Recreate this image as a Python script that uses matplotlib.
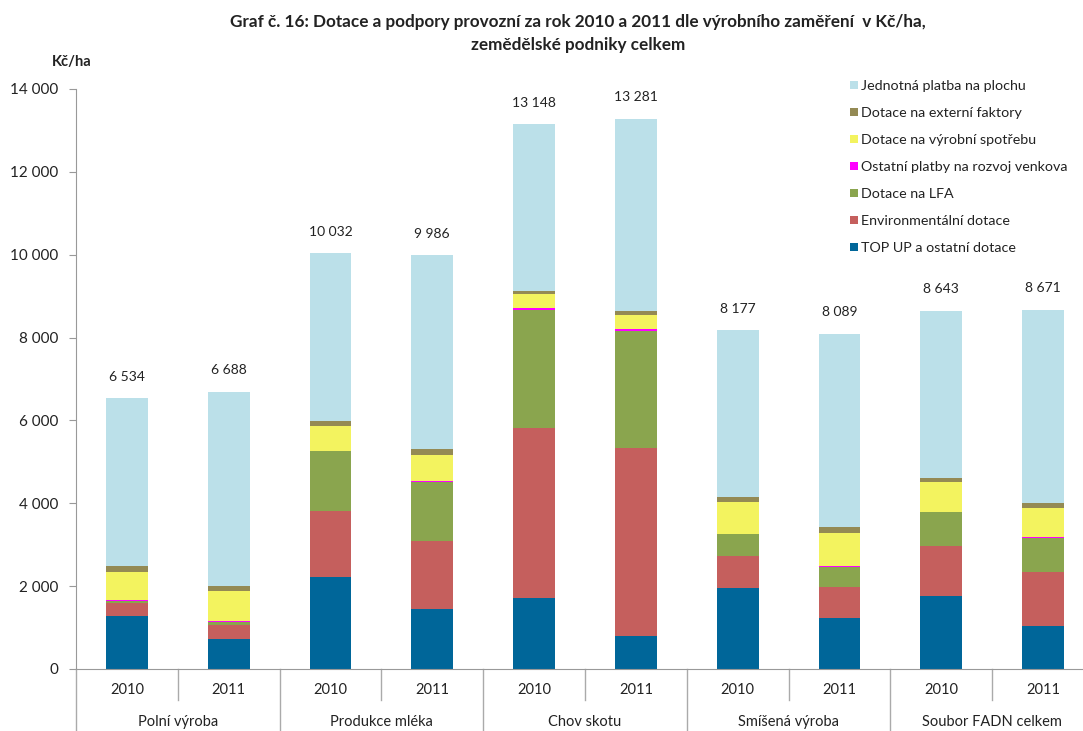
import matplotlib
matplotlib.use("Agg")
import matplotlib.pyplot as plt
import matplotlib.transforms as mtransforms
from matplotlib.patches import Patch
import numpy as np

plt.rcParams['font.family'] = ['Lato', 'DejaVu Sans']

groups = ["Polní výroba", "Produkce mléka", "Chov skotu", "Smíšená výroba", "Soubor FADN celkem"]
years = ["2010", "2011"]

top_up   = [1287, 717, 2229, 1448, 1709, 806, 1963, 1223, 1770, 1046]
env      = [299, 345, 1585, 1650, 4109, 4522, 765, 748, 1207, 1303]
lfa      = [63, 80, 1448, 1408, 2843, 2834, 523, 499, 805, 813]
ostatni  = [10, 10, 12, 20, 56, 46, 15, 10, 15, 15]
vyrobni  = [690, 731, 600, 632, 333, 343, 758, 811, 709, 717]
externi  = [137, 128, 113, 160, 73, 91, 121, 137, 97, 120]
jednotna = [4048, 4677, 4045, 4668, 4025, 4639, 4032, 4661, 4040, 4657]
totals   = [6534, 6688, 10032, 9986, 13148, 13281, 8177, 8089, 8643, 8671]

series = [
    ("TOP UP a ostatní dotace", top_up, "#006699"),
    ("Environmentální dotace", env, "#C55F5D"),
    ("Dotace na LFA", lfa, "#8AA54E"),
    ("Ostatní platby na rozvoj venkova", ostatni, "#FF00FF"),
    ("Dotace na výrobní spotřebu", vyrobni, "#F3F35F"),
    ("Dotace na externí faktory", externi, "#948A54"),
    ("Jednotná platba na plochu", jednotna, "#BBE0E9"),
]

W, H = 1083, 731
fig = plt.figure(figsize=(W / 100, H / 100), dpi=100)
ax_left, ax_right, ax_top, ax_bot = 76, 1083, 89, 669
ax = fig.add_axes([ax_left / W, 1 - ax_bot / H, (ax_right - ax_left) / W, (ax_bot - ax_top) / H])

n = len(totals)
x = np.arange(n)
bottom = np.zeros(n)
for name, vals, col in series:
    v = np.array(vals, dtype=float)
    ax.bar(x, v, width=0.41, bottom=bottom, color=col, label=name, edgecolor='none')
    bottom += v

slot = 101.8
ax.set_xlim(-0.5, -0.5 + (ax_right - ax_left) / slot)
ax.set_ylim(0, 14000)

for xi, t in zip(x, totals):
    ax.annotate(f"{t:,}".replace(",", " "), (xi, t), xytext=(0, 15.5), textcoords='offset points',
                ha='center', va='center', fontsize=10, color='#222222')

yt = np.arange(0, 14001, 2000)
ax.set_yticks(yt)
ax.set_yticklabels([f"{v:,}".replace(",", " ") for v in yt], fontsize=11, color='#222222')
ax.tick_params(axis='y', direction='out', length=5, color='#999999', pad=8)
ax.set_xticks([])

for s in ['top', 'right']:
    ax.spines[s].set_visible(False)
ax.spines['left'].set_color('#999999')
ax.spines['bottom'].set_color('#999999')

trans = mtransforms.blended_transform_factory(ax.transData, ax.transAxes)
h_ax = ax_bot - ax_top
yr_lo = -(700 - ax_bot) / h_ax
grp_lo = -(H - ax_bot + 2) / h_ax
for i in range(n):
    ax.text(i, -21 / h_ax, years[i % 2], transform=trans, ha='center', va='center', fontsize=10.5, color='#222222')
for g in range(len(groups)):
    ax.text(2 * g + 0.5, -53 / h_ax, groups[g], transform=trans, ha='center', va='center', fontsize=10.5, color='#222222')
for i in range(n + 1):
    xb = i - 0.5
    lo = grp_lo if i % 2 == 0 else yr_lo
    ax.plot([xb, xb], [0, lo], transform=trans, color='#aaaaaa', lw=1, clip_on=False)

handles = [Patch(facecolor=c, edgecolor='none', label=nm) for nm, _, c in series][::-1]
leg = fig.legend(handles=handles, loc='upper left', bbox_to_anchor=(850 / W, 1 - 80 / H),
                 frameon=False, fontsize=10.3, handlelength=0.55, handleheight=0.55,
                 handletextpad=0.25, labelspacing=1.05, borderpad=0, borderaxespad=0)
for t in leg.get_texts():
    t.set_color('#222222')

fig.text(578 / W, 1 - 22 / H, "Graf č. 16: Dotace a podpory provozní za rok 2010 a 2011 dle výrobního zaměření  v Kč/ha,",
         ha='center', va='center', fontsize=12.3, fontweight='bold', color='#222222')
fig.text(578 / W, 1 - 45 / H, "zemědělské podniky celkem",
         ha='center', va='center', fontsize=12.3, fontweight='bold', color='#222222')
fig.text(72 / W, 1 - 62 / H, "Kč/ha", ha='center', va='center', fontsize=10.5, fontweight='bold', color='#222222')

fig.savefig("out.png", dpi=100)
